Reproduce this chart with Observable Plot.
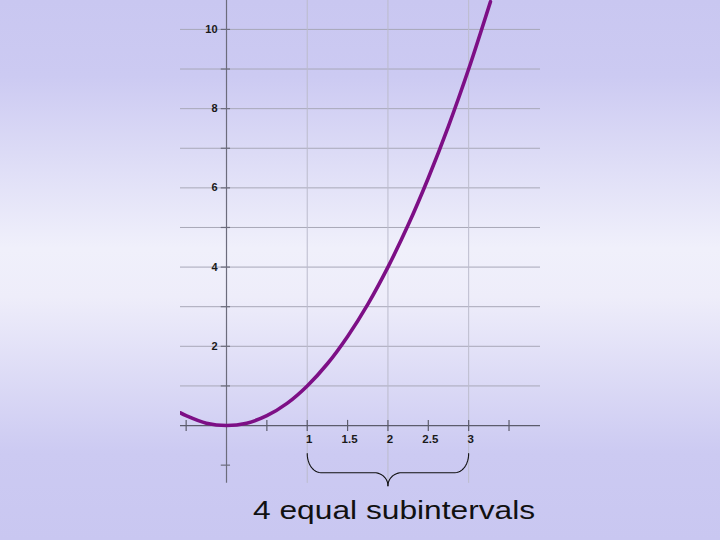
<!DOCTYPE html>
<html>
<head>
<meta charset="utf-8">
<script src="https://cdn.jsdelivr.net/npm/d3@7"></script>
<script src="https://cdn.jsdelivr.net/npm/@observablehq/plot@0.6"></script>
<style>
  html, body { margin: 0; padding: 0; }
  body {
    width: 720px; height: 540px; overflow: hidden; position: relative;
    background: linear-gradient(to bottom, #c9c7f1 0%, #cccaf2 14%, #f0f0fb 46%, #eeedfa 55%, #cccaf2 84%, #c9c7f1 100%);
    font-family: "Liberation Sans", Arial, sans-serif;
  }
  #chart { position: absolute; left: 0; top: 0; }
  #caption {
    position: absolute; left: 253px; top: 497px;
    font-size: 26px; line-height: 26px; color: #111;
    white-space: nowrap; transform: scaleX(1.22); transform-origin: left top;
  }
</style>
</head>
<body>
<div id="chart"></div>
<div id="caption">4 equal subintervals</div>
<script>
// Curve values (the parabola)
const curveX = [-0.57, -0.5, -0.25, 0, 0.25, 0.5, 0.75, 1, 1.25, 1.5, 1.75, 2, 2.25, 2.5, 2.75, 3, 3.27];
const curveY = [0.32, 0.25, 0.06, 0, 0.06, 0.25, 0.56, 1.0, 1.56, 2.25, 3.06, 4.0, 5.06, 6.25, 7.56, 9.0, 10.7];

// Axis / grid / tick values
const xDomain = [-0.57, 3.89];
const yDomain = [-1.64, 10.73];
const gridYValues = [1, 2, 3, 4, 5, 6, 7, 8, 9, 10];
const gridXValues = [1, 2, 3];
const xTickValues = [-0.5, 0.5, 1, 1.5, 2, 2.5, 3, 3.5];
const yTickValues = [-1, 1, 2, 3, 4, 5, 6, 7, 8, 9, 10];
const xLabelValues = [1, 1.5, 2, 2.5, 3];
const xLabelTexts = ["1", "1.5", "2", "2.5", "3"];
const yLabelValues = [2, 4, 6, 8, 10];
const yLabelTexts = ["2", "4", "6", "8", "10"];
const axisBottom = -1.46;
const braceInterval = [1, 3];
const braceLevels = [-0.71, -1.19, -1.52]; // top of ends, horizontal bar, tip

const curve = curveX.map((x, i) => ({x, y: curveY[i]}));
const xLabels = xLabelValues.map((x, i) => ({x, t: xLabelTexts[i]}));
const yLabels = yLabelValues.map((y, i) => ({y, t: yLabelTexts[i]}));

// Brace geometry built from the interval it marks (left half, then mirrored)
function bracePoints() {
  const [a, b] = braceInterval;
  const mid = (a + b) / 2;
  const [yTop, yBar, yTip] = braceLevels;
  const r = 0.17;
  const n = 12;
  const left = [];
  const ry1 = yTop - yBar;
  for (let k = 0; k <= n; k++) {
    const t = Math.PI / 2 * k / n;
    left.push({x: a + r - r * Math.cos(t), y: yBar + ry1 * (1 - Math.sin(t))});
  }
  const ry2 = yBar - yTip;
  for (let k = 0; k <= n; k++) {
    const t = Math.PI / 2 * k / n;
    left.push({x: mid - r + r * Math.sin(t), y: yBar - ry2 * (1 - Math.cos(t))});
  }
  const out = left.map(p => ({...p, seg: 0}));
  left.forEach(p => out.push({x: a + b - p.x, y: p.y, seg: 1}));
  return out;
}
const brace = bracePoints();

const chart = Plot.plot({
  width: 720,
  height: 490,
  marginLeft: 180,
  marginRight: 180,
  marginTop: 0,
  marginBottom: 0,
  x: {domain: xDomain, axis: null},
  y: {domain: yDomain, axis: null},
  style: {background: "transparent", overflow: "visible", fontFamily: "Liberation Sans, Arial, sans-serif"},
  marks: [
    Plot.ruleY(gridYValues, {stroke: "#a8a8b8", strokeWidth: 1}),
    Plot.ruleX(gridXValues, {y1: axisBottom, y2: yDomain[1], stroke: "#bcbccc", strokeWidth: 1}),
    Plot.ruleY([0], {stroke: "#5c5c6c", strokeWidth: 1.2}),
    Plot.ruleX([0], {y1: axisBottom, y2: yDomain[1], stroke: "#6c6c7c", strokeWidth: 1.2}),
    Plot.ruleX(xTickValues, {y1: -0.15, y2: 0.13, stroke: "#5c5c6c", strokeWidth: 1.2}),
    Plot.ruleY(yTickValues, {x1: -0.065, x2: 0.05, stroke: "#6c6c7c", strokeWidth: 1.2}),
    Plot.text(xLabels, {x: "x", y: 0, text: "t", dx: 2, dy: 14, fontSize: 11.5, fill: "#1a1a1a", fontWeight: "bold"}),
    Plot.text(yLabels, {x: 0, y: "y", text: "t", dx: -9, textAnchor: "end", fontSize: 11, fill: "#1a1a1a", fontWeight: "bold"}),
    Plot.line(brace, {x: "x", y: "y", z: "seg", stroke: "#111", strokeWidth: 1.1}),
    Plot.line(curve, {x: "x", y: "y", curve: "catmull-rom", stroke: "#7d0f86", strokeWidth: 3.6, clip: true})
  ]
});
document.getElementById("chart").appendChild(chart);
</script>
</body>
</html>
